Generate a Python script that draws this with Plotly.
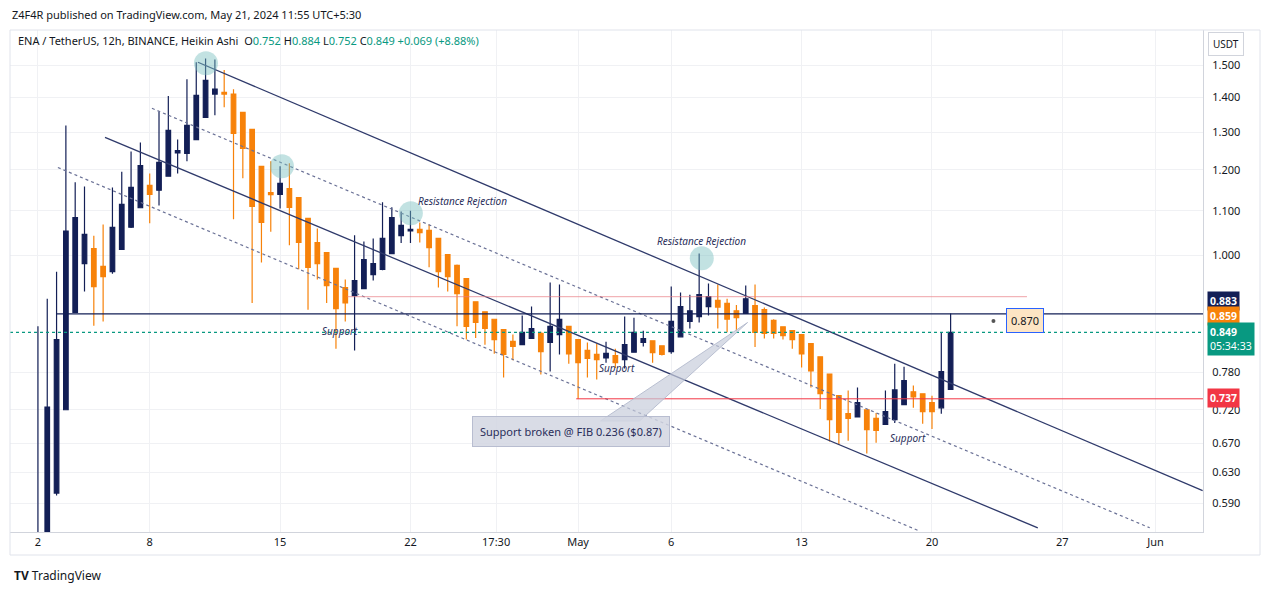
import math
import plotly.graph_objects as go
import pandas as pd

NAVY = "#131f56"
ORANGE = "#f7820a"

# Heikin Ashi candles (12h)
opens = [0.50,0.50,0.603,0.720,0.886,0.983,1.015,0.977,0.966,1.013,1.062,1.107,1.161,1.149,1.184,1.244,1.243,1.280,1.342,1.410,
         1.415,1.410,1.356,1.308,1.209,1.143,1.139,1.153,1.131,1.082,1.028,1.006,0.973,0.934,0.918,0.932,0.960,0.971,1.004,1.043,
         1.054,1.057,1.055,1.037,1.002,0.979,0.952,0.906,0.887,0.873,0.854,0.833,0.827,0.838,0.847,0.831,0.845,0.860,0.836,0.817,
         0.810,0.804,0.808,0.801,0.814,0.831,0.834,0.825,0.815,0.841,0.869,0.878,0.897,0.909,0.903,0.889,0.884,0.899,0.891,0.871,
         0.859,0.852,0.845,0.829,0.806,0.777,0.742,0.714,0.709,0.720,0.707,0.698,0.705,0.728,0.748,0.745,0.731,0.723,0.752]
highs = [0.86,0.912,0.966,1.319,1.169,1.158,1.043,1.068,1.156,1.195,1.248,1.272,1.191,1.359,1.404,1.280,1.455,1.509,1.521,1.518,
         1.484,1.425,1.356,1.308,1.209,1.222,1.209,1.217,1.131,1.082,1.059,1.006,0.973,0.950,1.044,1.030,1.037,1.120,1.108,1.098,
         1.100,1.073,1.068,1.037,1.002,0.981,0.952,0.906,0.887,0.873,0.854,0.845,0.880,0.897,0.850,0.944,0.940,0.860,0.836,0.831,
         0.829,0.832,0.820,0.878,0.876,0.852,0.834,0.825,0.936,0.924,0.920,1.004,0.942,0.940,0.912,0.900,0.938,0.940,0.895,0.873,
         0.860,0.852,0.845,0.829,0.806,0.777,0.742,0.750,0.755,0.720,0.715,0.750,0.794,0.789,0.758,0.745,0.742,0.849,0.884]
lows = [0.45,0.50,0.600,0.720,0.886,0.926,0.861,0.869,0.962,1.013,1.060,1.107,1.071,1.112,1.184,1.191,1.222,1.280,1.342,1.348,
        1.371,1.080,1.179,0.904,0.985,1.052,1.105,1.022,0.971,0.891,0.950,0.904,0.820,0.869,0.817,0.932,0.948,0.969,1.004,1.027,
        1.027,1.028,0.975,0.934,0.926,0.860,0.836,0.839,0.827,0.811,0.771,0.800,0.827,0.838,0.776,0.781,0.810,0.794,0.737,0.771,
        0.768,0.796,0.787,0.786,0.814,0.824,0.796,0.808,0.811,0.841,0.856,0.867,0.880,0.856,0.849,0.852,0.884,0.823,0.838,0.838,
        0.836,0.820,0.788,0.755,0.721,0.673,0.668,0.674,0.709,0.656,0.671,0.698,0.700,0.728,0.723,0.699,0.691,0.714,0.752]
closes = [0.53,0.724,0.836,1.053,1.084,1.046,0.936,0.956,1.062,1.115,1.156,1.211,1.139,1.219,1.305,1.250,1.319,1.406,1.452,1.425,
          1.410,1.297,1.256,1.110,1.073,1.138,1.166,1.108,1.028,0.975,0.983,0.938,0.893,0.904,0.948,0.991,0.983,1.037,1.084,1.066,
          1.057,1.050,1.017,0.966,0.956,0.922,0.860,0.867,0.856,0.836,0.810,0.824,0.849,0.856,0.815,0.860,0.873,0.811,0.796,0.803,
          0.801,0.812,0.796,0.827,0.849,0.838,0.813,0.810,0.869,0.897,0.889,0.920,0.916,0.896,0.873,0.876,0.912,0.849,0.847,0.847,
          0.843,0.836,0.811,0.782,0.745,0.705,0.686,0.707,0.731,0.690,0.689,0.717,0.751,0.766,0.740,0.717,0.717,0.781,0.849]

start = pd.Timestamp("2024-04-02 00:00")
dates = pd.date_range(start, periods=len(opens), freq="12h")

def day(d):
    return start + pd.Timedelta(days=d)

def dstr(d):
    return day(d).strftime("%Y-%m-%d %H:%M:%S")

# axis ticks
ytick_vals = [1.5,1.4,1.3,1.2,1.1,1.0,0.78,0.72,0.67,0.63,0.59]
ytick_text = ["1.500","1.400","1.300","1.200","1.100","1.000","0.780","0.720","0.670","0.630","0.590"]
xtick_days = [0,6,13,20,24.6,29,34,41,48,55,60]
xtick_text = ["2","8","15","22","17:30","May","6","13","20","27","Jun"]

# drawings: (start day, start price, end day, end price)
channel_solid = [(8.59,1.509,62.53,0.606),(3.6,1.286,53.68,0.560)]
channel_dotted = [(6.12,1.368,59.69,0.560),(1.07,1.206,47.34,0.556)]
hlines = [(16.6,0.916,53.1,0.916,"#e87a82",0.7),(1.0,0.883,62.6,0.883,NAVY,1.2),(28.9,0.737,62.6,0.737,"#f23645",1)]
circle_days = [9.02,13.1,20.02,35.64]
circle_prices = [1.506,1.209,1.094,0.994]

fig = go.Figure()
fig.add_trace(go.Candlestick(x=dates, open=opens, high=highs, low=lows, close=closes,
    increasing=dict(line=dict(color=NAVY, width=1.2), fillcolor=NAVY),
    decreasing=dict(line=dict(color=ORANGE, width=1.2), fillcolor=ORANGE),
    whiskerwidth=0, showlegend=False, hoverinfo="skip"))

for (d0,p0,d1,p1) in channel_solid:
    fig.add_trace(go.Scatter(x=[day(d0),day(d1)], y=[p0,p1], mode="lines",
        line=dict(color="#2f3a6b", width=1.3), showlegend=False, hoverinfo="skip"))
for (d0,p0,d1,p1) in channel_dotted:
    fig.add_trace(go.Scatter(x=[day(d0),day(d1)], y=[p0,p1], mode="lines",
        line=dict(color="#6a7196", width=1.2, dash="dot"), showlegend=False, hoverinfo="skip"))
for (d0,p0,d1,p1,c,w) in hlines:
    fig.add_trace(go.Scatter(x=[day(d0),day(d1)], y=[p0,p1], mode="lines",
        line=dict(color=c, width=w), showlegend=False, hoverinfo="skip"))
# current price dotted line
fig.add_trace(go.Scatter(x=[day(-1.5),day(62.6)], y=[0.849,0.849], mode="lines",
    line=dict(color="#089981", width=1.2, dash="dot"), showlegend=False, hoverinfo="skip"))
fig.add_trace(go.Scatter(x=[day(d) for d in circle_days], y=circle_prices, mode="markers",
    marker=dict(size=24, color="rgba(120,190,190,0.45)"), showlegend=False, hoverinfo="skip"))
# callout pointer
fig.add_trace(go.Scatter(x=[day(30.2),day(38.1),day(32.3),day(30.2)], y=[0.703,0.867,0.703,0.703],
    mode="lines", fill="toself", fillcolor="rgba(200,205,220,0.7)", line=dict(color="rgba(180,186,205,0.9)", width=1),
    showlegend=False, hoverinfo="skip"))
fig.add_trace(go.Scatter(x=[day(51.3)], y=[0.870], mode="markers", marker=dict(size=4, color="#555"),
    showlegend=False, hoverinfo="skip"))

ann = []
def txt(d, p, s, size=10, italic=True, color="#2a2e5a"):
    ann.append(dict(x=dstr(d), y=math.log10(p), xref="x", yref="y", text=(f"<i>{s}</i>" if italic else s), showarrow=False,
                    font=dict(size=size, color=color, family="Noto Sans")))
txt(22.8,1.122,"Resistance Rejection")
txt(35.6,1.032,"Resistance Rejection")
txt(16.2,0.852,"Support")
txt(31.1,0.787,"Support")
txt(46.7,0.678,"Support")
ann.append(dict(x=dstr(28.6), y=math.log10(0.688), xref="x", yref="y", text="Support broken @ FIB 0.236 ($0.87)", showarrow=False,
    font=dict(size=11, color="#2a2e5a", family="Noto Sans"), bgcolor="rgba(210,214,226,0.85)",
    bordercolor="#b8bdd0", borderwidth=1, borderpad=7))
ann.append(dict(x=dstr(53.0), y=math.log10(0.870), xref="x", yref="y", text="0.870", showarrow=False,
    font=dict(size=11, color="#131722", family="Noto Sans"), bgcolor="#fde5c4", bordercolor="#2962ff", borderwidth=1, borderpad=4))

def py(y):
    return (532-y)/502

def price_box(ypx, s, bg):
    ann.append(dict(x=1.003, y=py(ypx), xref="paper", yref="paper", xanchor="left", yanchor="middle", text=s, showarrow=False,
                    font=dict(size=10.5, color="white", family="Noto Sans"), bgcolor=bg, borderpad=2, align="left"))
price_box(301, "<b>0.883</b>", NAVY)
price_box(316, "<b>0.859</b>", ORANGE)
price_box(339, "<b>0.849</b><br>05:34:33", "#089981")
price_box(398, "<b>0.737</b>", "#f23645")

def paper_txt(x, y, s, size=11, color="#131722", **kw):
    ann.append(dict(x=(x-10)/1193, y=py(y), xref="paper", yref="paper", xanchor="left", yanchor="middle", text=s,
                    showarrow=False, font=dict(size=size, color=color, family="Noto Sans"), **kw))
paper_txt(10, 14, "Z4F4R published on TradingView.com, May 21, 2024 11:55 UTC+5:30", 11)
g = "#089981"
paper_txt(16, 41, f"ENA / TetherUS, 12h, BINANCE, Heikin Ashi  O<span style='color:{g}'>0.752</span> H<span style='color:{g}'>0.884</span> L<span style='color:{g}'>0.752</span> C<span style='color:{g}'>0.849</span> <span style='color:{g}'>+0.069 (+8.88%)</span>", 11)
paper_txt(1208, 44, "USDT", 10, bordercolor="#d1d4dc", borderwidth=1, borderpad=4)
paper_txt(12, 575, "<b>TV</b> TradingView", 12)

fig.update_layout(
    width=1273, height=592, margin=dict(l=2, r=78, t=22, b=68, autoexpand=False),
    paper_bgcolor="white", plot_bgcolor="white", annotations=ann,
    xaxis=dict(rangeslider=dict(visible=False), range=[day(-1.5), day(62.55)],
               tickvals=[day(d) for d in xtick_days], ticktext=xtick_text,
               showgrid=True, gridcolor="#f0f1f4", tickfont=dict(size=11, color="#131722", family="Noto Sans"),
               showline=True, linecolor="#d1d4dc", zeroline=False, ticks="", automargin=False),
    yaxis=dict(type="log", range=[-0.2557, 0.2085], side="right", tickvals=ytick_vals, ticktext=ytick_text,
               showgrid=True, gridcolor="#f0f1f4", tickfont=dict(size=11, color="#131722", family="Noto Sans"),
               showline=True, linecolor="#d1d4dc", zeroline=False, ticks="", ticklabelstandoff=6, automargin=False),
    shapes=[dict(type="rect", xref="paper", yref="paper", x0=0, x1=1250/1193, y0=-23/502, y1=1.0,
                 line=dict(color="#e0e3eb", width=1))],
    font=dict(family="Noto Sans"), hovermode=False,
)
fig.write_html("out.html")
